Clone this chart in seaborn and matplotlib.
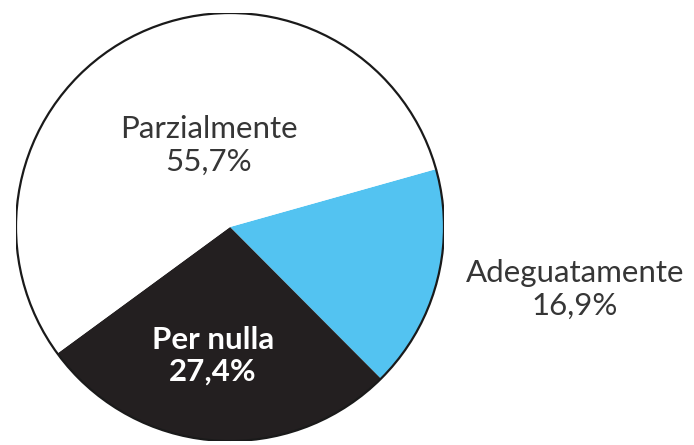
import matplotlib
matplotlib.use("Agg")
import matplotlib.pyplot as plt
import seaborn as sns
from matplotlib.patches import Circle

# Survey answers and their shares (%)
categories = ["Adeguatamente", "Per nulla", "Parzialmente"]
shares = [16.9, 27.4, 55.7]
share_labels = ["16,9%", "27,4%", "55,7%"]
slice_colors = ["#53c3f1", "#231f20", "#ffffff"]

sns.set_theme(style="white")
plt.rcParams["font.family"] = ["Lato", "DejaVu Sans"]

W, H = 694, 445
fig = plt.figure(figsize=(W / 100, H / 100), dpi=100)
fig.patch.set_facecolor("white")

cx, cy, r = 230, 227, 214
ax = fig.add_axes([(cx - r) / W, (H - cy - r) / H, 2 * r / W, 2 * r / H])

wedges, _ = ax.pie(
    shares,
    colors=slice_colors,
    startangle=15.7,
    counterclock=False,
    radius=1.0,
    wedgeprops=dict(edgecolor="none", linewidth=0),
)
ax.add_patch(Circle((0, 0), 1.0, fill=False, edgecolor="#1a1a1a", linewidth=1.6))
ax.set_xlim(-1, 1)
ax.set_ylim(-1, 1)
ax.set_aspect("equal")
ax.axis("off")


def px(x, y):
    return (x - cx) / r, (cy - y) / r


text_color = "#363636"
fs = 22.5

x, y = px(209, 145)
ax.text(x, y, f"{categories[2]}\n{share_labels[2]}", ha="center", va="center",
        fontsize=fs, color=text_color, linespacing=1.2, clip_on=False)

x, y = px(213, 356)
ax.text(x, y, f"{categories[1]}\n{share_labels[1]}", ha="center", va="center",
        fontsize=fs, color="white", fontweight="bold", linespacing=1.15, clip_on=False)

x, y = px(575, 289)
ax.text(x, y, f"{categories[0]}\n{share_labels[0]}", ha="center", va="center",
        fontsize=fs, color=text_color, linespacing=1.2, clip_on=False)

fig.savefig("out.png", dpi=100, facecolor="white")
